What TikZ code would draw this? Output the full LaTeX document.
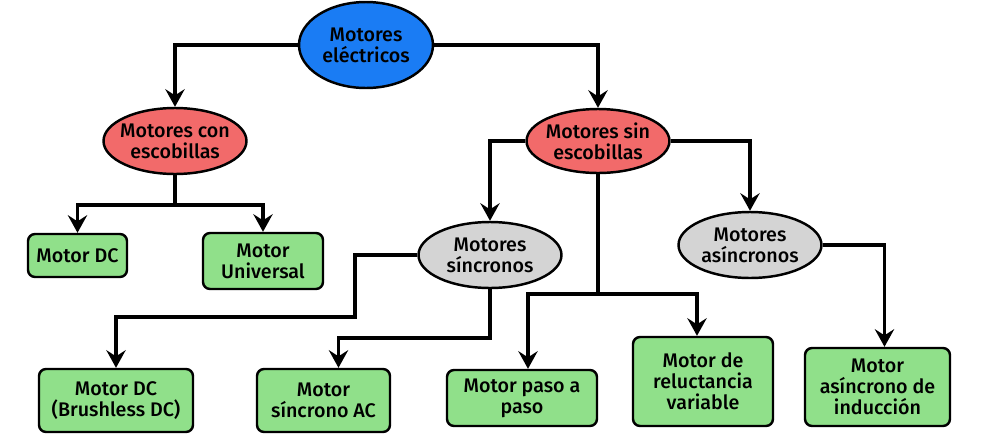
\documentclass[tikz,border=0pt]{standalone}
\usepackage{fontspec}
\setmainfont{Fira Sans}[UprightFont=* Medium]
\usepackage{tikz}
\usetikzlibrary{calc,shapes.geometric,arrows.meta}

\definecolor{topblue}{HTML}{1A7CF4}
\definecolor{brushred}{HTML}{F26A6A}
\definecolor{syncgray}{HTML}{D4D4D4}
\definecolor{leafgreen}{HTML}{90E08A}

\begin{document}
\begin{tikzpicture}[x=0.02cm,y=-0.02cm,
    font=\fontsize{11.2}{12}\selectfont,
    oval/.style={ellipse,draw,line width=1.4pt,inner sep=-1cm,align=center,
      minimum width=2.86cm,minimum height=1.32cm},
    leaf/.style={rectangle,rounded corners=4pt,draw,line width=1.4pt,fill=leafgreen,
      inner sep=0pt,align=center},
    link/.style={line width=1.9pt},
    arr/.style={link,-{Stealth[length=10pt,width=11pt,inset=3.5pt]}}]

    \useasboundingbox (0,0) rectangle (985,440);

    % ellipses
    \node[oval,fill=topblue,minimum width=2.68cm,minimum height=1.72cm] (elec) at (366,45) {Motores\\eléctricos};
    \node[oval,fill=brushred] (con) at (175,141) {Motores con\\escobillas};
    \node[oval,fill=brushred,minimum height=1.28cm] (sin) at (598,141) {Motores sin\\escobillas};
    \node[oval,fill=syncgray] (sinc) at (490,255) {Motores\\síncronos};
    \node[oval,fill=syncgray] (asinc) at (750,245) {Motores\\asíncronos};

    % boxes
    \node[leaf,minimum width=1.98cm,minimum height=0.86cm] (dc) at (77.5,255.5) {Motor DC};
    \node[leaf,minimum width=2.4cm,minimum height=1.12cm] (univ) at (263,261) {Motor\\Universal};
    \node[leaf,minimum width=3.08cm,minimum height=1.26cm] (bldc) at (116,400.5) {Motor DC\\(Brushless DC)};
    \node[leaf,minimum width=2.66cm,minimum height=1.26cm] (ac) at (323.5,400.5) {Motor\\síncrono AC};
    \node[leaf,minimum width=3.0cm,minimum height=1.12cm] (paso) at (522,398) {Motor paso a\\paso};
    \node[leaf,minimum width=2.8cm,minimum height=1.78cm] (rel) at (703,381.5) {Motor de\\reluctancia\\variable};
    \node[leaf,minimum width=2.9cm,minimum height=1.56cm] (ind) at (877.5,387) {Motor\\asíncrono de\\inducción};

    % junctions
    \coordinate (j1) at (175,205);
    \coordinate (j2) at (598,294);
    \coordinate (k1) at (355,317);
    \coordinate (k2) at (490,338);

    \draw[arr] (elec.west) -| (con.north);
    \draw[arr] (elec.east) -| (sin.north);

    \draw[link] (con.south) -- (j1);
    \draw[arr] (j1) -| (dc.north);
    \draw[arr] (j1) -| (univ.north);

    \draw[arr] (sin.west) -| (sinc.north);
    \draw[arr] (sin.east) -| (asinc.north);
    \draw[link] (sin.south) -- (j2);
    \draw[arr] (j2) -| ([xshift=0.12cm]paso.north);
    \draw[arr] (j2) -| ([xshift=-0.12cm]rel.north);

    \draw[arr] (sinc.west) -| (k1) -| (bldc.north);
    \draw[arr] (sinc.south) -- (k2) -| ([xshift=0.3cm]ac.north);

    \draw[arr] (asinc.east) -| ([xshift=0.14cm]ind.north);

  \end{tikzpicture}
\end{document}
